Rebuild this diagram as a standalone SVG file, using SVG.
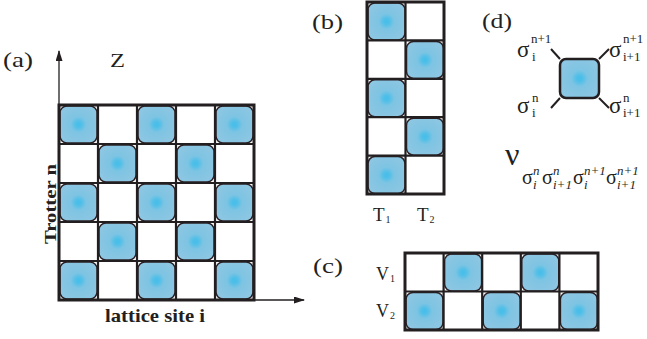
<svg xmlns="http://www.w3.org/2000/svg" width="647" height="339" viewBox="0 0 647 339">
<style>
.t{font-family:"Liberation Serif","Times New Roman",serif;fill:#231f20}
.b{font-weight:bold}
.grid{fill:none;stroke:#231f20;stroke-width:2.2}
.frame{fill:none;stroke:#231f20;stroke-width:3}
.ax{stroke:#231f20;stroke-width:1.3;fill:none}
.leg{stroke:#231f20;stroke-width:2}
</style>
<defs>
<radialGradient id="bg" cx="50%" cy="50%" r="55%">
<stop offset="0" stop-color="#45bee9"/>
<stop offset="0.14" stop-color="#4fbfe8"/>
<stop offset="0.38" stop-color="#7dc4e3"/>
<stop offset="1" stop-color="#8cc6e2"/>
</radialGradient>
<rect id="tile" width="37" height="37" rx="7" fill="url(#bg)" stroke="#2b2024" stroke-width="1.5"/>
<marker id="ah" markerWidth="11" markerHeight="7" refX="10" refY="3.5" orient="auto" markerUnits="userSpaceOnUse">
<path d="M0,0 L11,3.5 L0,7 Z" fill="#231f20"/>
</marker>
</defs>
<rect width="647" height="339" fill="#fff"/>

<g id="panel-a">
<text class="t" x="3" y="67" font-size="22" textLength="30" lengthAdjust="spacingAndGlyphs">(a)</text>
<text class="t" x="110" y="67" font-size="18" textLength="15" lengthAdjust="spacingAndGlyphs">Z</text>
<text class="t b" transform="translate(56,244) rotate(-90)" font-size="17" textLength="80" lengthAdjust="spacingAndGlyphs">Trotter n</text>
<text class="t b" x="105" y="322" font-size="19" textLength="100" lengthAdjust="spacingAndGlyphs">lattice site i</text>
<g id="tiles-a">
<use href="#tile" x="60" y="106"/><use href="#tile" x="138" y="106"/><use href="#tile" x="216" y="106"/>
<use href="#tile" x="99" y="145"/><use href="#tile" x="177" y="145"/>
<use href="#tile" x="60" y="184"/><use href="#tile" x="138" y="184"/><use href="#tile" x="216" y="184"/>
<use href="#tile" x="99" y="223"/><use href="#tile" x="177" y="223"/>
<use href="#tile" x="60" y="262"/><use href="#tile" x="138" y="262"/><use href="#tile" x="216" y="262"/>
</g>
<path class="grid" d="M98,105V300M137,105V300M176,105V300M215,105V300M59,144H254M59,183H254M59,222H254M59,261H254"/>
<rect class="frame" x="59" y="105" width="195" height="195"/>
</g>

<g id="connectors">
<line class="ax" x1="59" y1="300" x2="59" y2="51" marker-end="url(#ah)"/>
<line class="ax" x1="254" y1="300" x2="304" y2="300" marker-end="url(#ah)"/>
<line class="leg" x1="560" y1="59" x2="551" y2="49"/>
<line class="leg" x1="599" y1="59" x2="609" y2="49"/>
<line class="leg" x1="560" y1="98" x2="551" y2="108"/>
<line class="leg" x1="599" y1="98" x2="609" y2="108"/>
</g>

<g id="panel-b">
<text class="t" x="312" y="29" font-size="22" textLength="31" lengthAdjust="spacingAndGlyphs">(b)</text>
<use href="#tile" x="368" y="3"/><use href="#tile" x="406.5" y="41.4"/><use href="#tile" x="368" y="79.8"/><use href="#tile" x="406.5" y="118.2"/><use href="#tile" x="368" y="156.6"/>
<path class="grid" d="M405.5,2V194M367,40.4H444M367,78.8H444M367,117.2H444M367,155.6H444"/>
<rect class="frame" x="367" y="2" width="77" height="192"/>
<text class="t" x="373" y="221" font-size="19">T<tspan font-size="10" dy="2" dx="1">1</tspan></text>
<text class="t" x="417" y="221" font-size="19">T<tspan font-size="10" dy="2" dx="1">2</tspan></text>
</g>

<g id="panel-c">
<text class="t" x="313" y="273" font-size="22" textLength="30" lengthAdjust="spacingAndGlyphs">(c)</text>
<text class="t" x="376" y="280" font-size="18">V<tspan font-size="10" dy="2" dx="1">1</tspan></text>
<text class="t" x="376" y="317" font-size="18">V<tspan font-size="10" dy="2" dx="1">2</tspan></text>
<use href="#tile" x="444.6" y="254"/><use href="#tile" x="521.8" y="254"/>
<use href="#tile" x="406" y="292.5"/><use href="#tile" x="483.2" y="292.5"/><use href="#tile" x="560.4" y="292.5"/>
<path class="grid" d="M443.6,253V330M482.2,253V330M520.8,253V330M559.4,253V330M405,291.5H598"/>
<rect class="frame" x="405" y="253" width="193" height="77"/>
</g>

<g id="panel-d">
<text class="t" x="482" y="28" font-size="22" textLength="30" lengthAdjust="spacingAndGlyphs">(d)</text>
<rect x="560" y="59" width="39" height="39" rx="6" fill="url(#bg)" stroke="#231f20" stroke-width="2.5"/>
<text class="t" x="517" y="57" font-size="23">σ</text>
<text class="t" x="531" y="43" font-size="13">n+1</text>
<text class="t" x="532" y="61" font-size="13">i</text>
<text class="t" x="609" y="57" font-size="23">σ</text>
<text class="t" x="623" y="43" font-size="13">n+1</text>
<text class="t" x="623" y="61" font-size="13">i+1</text>
<text class="t" x="517" y="113" font-size="23">σ</text>
<text class="t" x="532" y="102" font-size="13">n</text>
<text class="t" x="532" y="117" font-size="13">i</text>
<text class="t" x="609" y="113" font-size="23">σ</text>
<text class="t" x="623" y="102" font-size="13">n</text>
<text class="t" x="623" y="117" font-size="13">i+1</text>
<text class="t" x="505" y="165" font-size="32">ν</text>
<g class="t" font-size="20">
<text x="522" y="184">σ</text>
<text x="533" y="175" font-size="13" font-style="italic">n</text>
<text x="533" y="189" font-size="13" font-style="italic">i</text>
<text x="542" y="184">σ</text>
<text x="553" y="175" font-size="13" font-style="italic">n</text>
<text x="553" y="189" font-size="13" font-style="italic">i+1</text>
<text x="573" y="184">σ</text>
<text x="584" y="175" font-size="13" font-style="italic">n+1</text>
<text x="584" y="189" font-size="13" font-style="italic">i</text>
<text x="606" y="184">σ</text>
<text x="617" y="175" font-size="13" font-style="italic">n+1</text>
<text x="617" y="189" font-size="13" font-style="italic">i+1</text>
</g>
</g>
</svg>
